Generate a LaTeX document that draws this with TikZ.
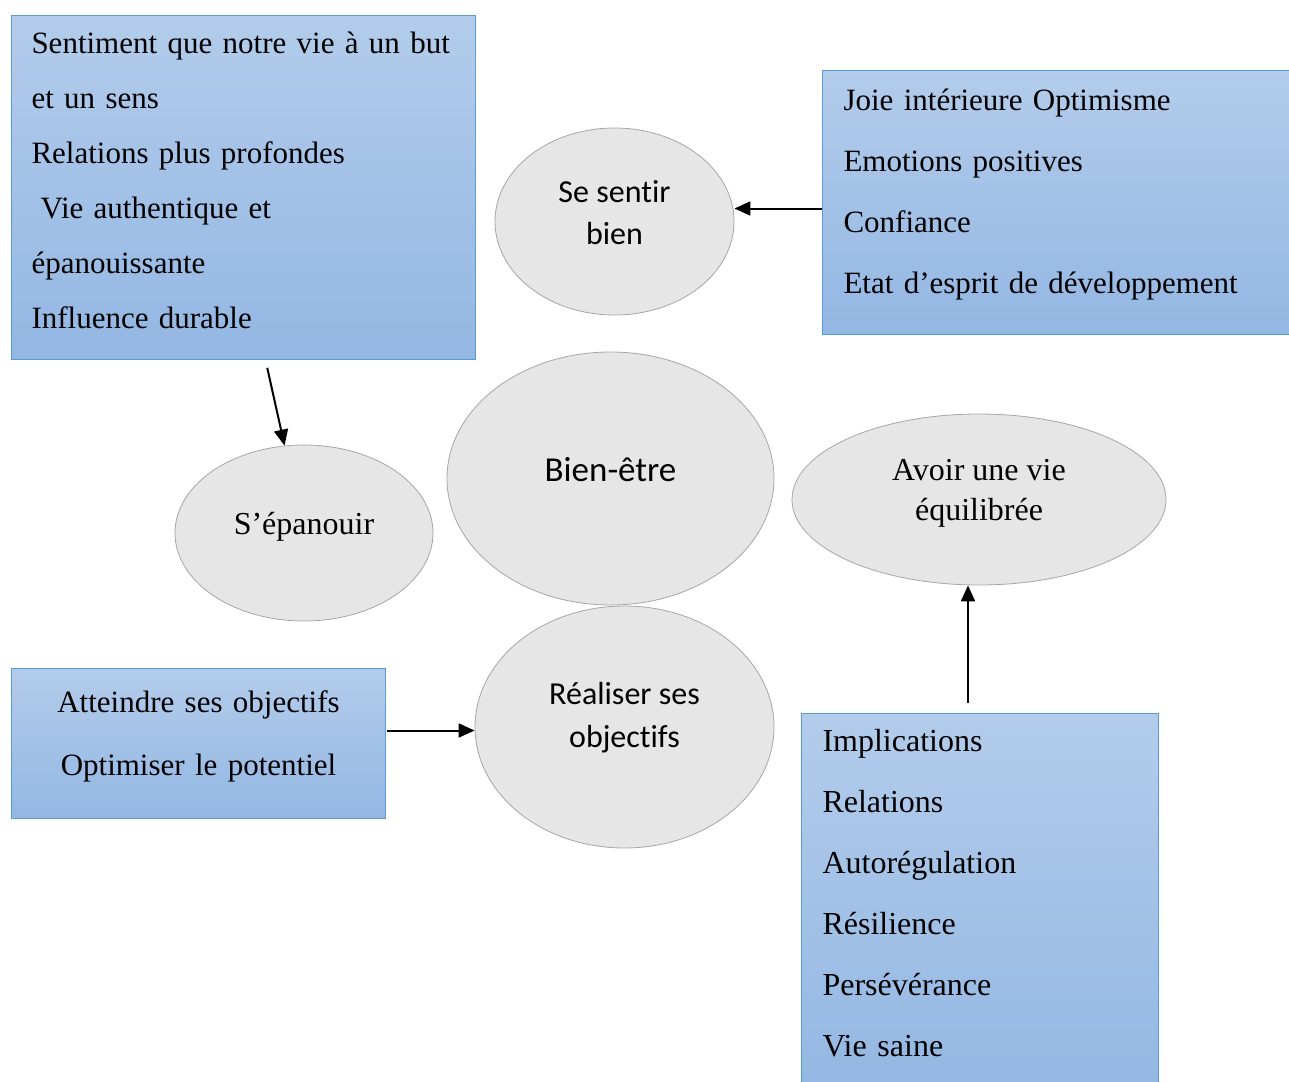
\documentclass[tikz,border=0pt]{standalone}
\usepackage{fontspec}
\setmainfont{Liberation Serif}
\newfontfamily\calibri[Ligatures=NoCommon]{Carlito}
\usetikzlibrary{shapes.geometric,arrows.meta}

\definecolor{cadrehaut}{RGB}{179,204,235}
\definecolor{cadrebas}{RGB}{147,183,227}
\definecolor{cadrebord}{RGB}{91,155,213}
\definecolor{bullefond}{RGB}{230,230,230}
\definecolor{bullebord}{RGB}{166,166,166}

\tikzset{
  cadre/.style={draw=cadrebord, line width=1pt, top color=cadrehaut, bottom color=cadrebas,
    anchor=north west, inner xsep=20pt, inner ysep=0pt, align=left, font=\fontsize{31}{55}\selectfont},
  bulle/.style={ellipse, draw=bullebord, fill=bullefond, line width=0.8pt, inner sep=0pt},
  texte/.style={yshift=6pt, align=center, font=\fontsize{32}{40}\selectfont},
  sans/.style={yshift=3pt, font=\calibri\fontsize{32}{42}\selectfont},
  fleche/.style={line width=2pt, -{Triangle[length=16pt,width=14pt]}}
}

\begin{document}
\begin{tikzpicture}[x=1pt,y=-1pt]
          \useasboundingbox (0,0) rectangle (1289,1081);

          \node[cadre, text width=424pt, minimum height=344pt] (but) at (11,15) {Sentiment que notre vie à un but\\et un sens\\Relations plus profondes\\\hspace*{9pt}Vie authentique et\\épanouissante\\Influence durable\rule[-15pt]{0pt}{15pt}};

          \node[cadre, inner xsep=21pt, text width=425pt, minimum height=264pt, font=\fontsize{31}{61}\selectfont] (joie) at (822,70) {Joie intérieure Optimisme\\Emotions positives\\Confiance\\Etat d’esprit de développement\rule[-23pt]{0pt}{23pt}};

          \node[cadre, align=center, text width=334pt, minimum height=150pt, font=\fontsize{31}{63}\selectfont] (atteindre) at (11,668) {Atteindre ses objectifs\\Optimiser le potentiel\rule[-21pt]{0pt}{21pt}};

          \node[cadre, inner xsep=21pt, text width=315pt, minimum height=382pt, font=\fontsize{32}{61}\selectfont] (impl) at (801,713) {Implications\\Relations\\Autorégulation\\Résilience\\Persévérance\\Vie saine\rule[-23pt]{0pt}{23pt}};

          \node[bulle, minimum width=239pt, minimum height=187pt, label={[texte,sans]center:Se sentir\\bien}] (sentir) at (614.5,221.5) {};
          \node[bulle, minimum width=327pt, minimum height=253pt, label={[texte,sans,font=\calibri\fontsize{35}{42}\selectfont]center:Bien-être}] (bienetre) at (610.5,478.5) {};
          \node[bulle, minimum width=258pt, minimum height=176pt, label={[texte]center:S’épanouir}] (epan) at (304,533) {};
          \node[bulle, minimum width=299pt, minimum height=242pt, label={[texte,sans,font=\calibri\fontsize{32}{43}\selectfont]center:Réaliser ses\\objectifs}] (realiser) at (624.5,727) {};
          \node[bulle, minimum width=374pt, minimum height=171pt, label={[texte]center:Avoir une vie\\équilibrée}] (avoir) at (979,499.5) {};

          \draw[fleche, shorten <=8pt] ([xshift=22pt]but.south) -- (epan);
          \draw[fleche] ([yshift=-6pt]joie.west) -- ([yshift=-6pt]joie.west -| sentir.east);
          \draw[fleche, shorten <=1pt] ([yshift=13pt]atteindre.east) -- ([yshift=13pt]atteindre.east -| realiser.west);
          \draw[fleche, shorten <=10pt] ([xshift=-12pt]impl.north) -- ([xshift=-12pt]impl.north |- avoir.south);
        \end{tikzpicture}
\end{document}
